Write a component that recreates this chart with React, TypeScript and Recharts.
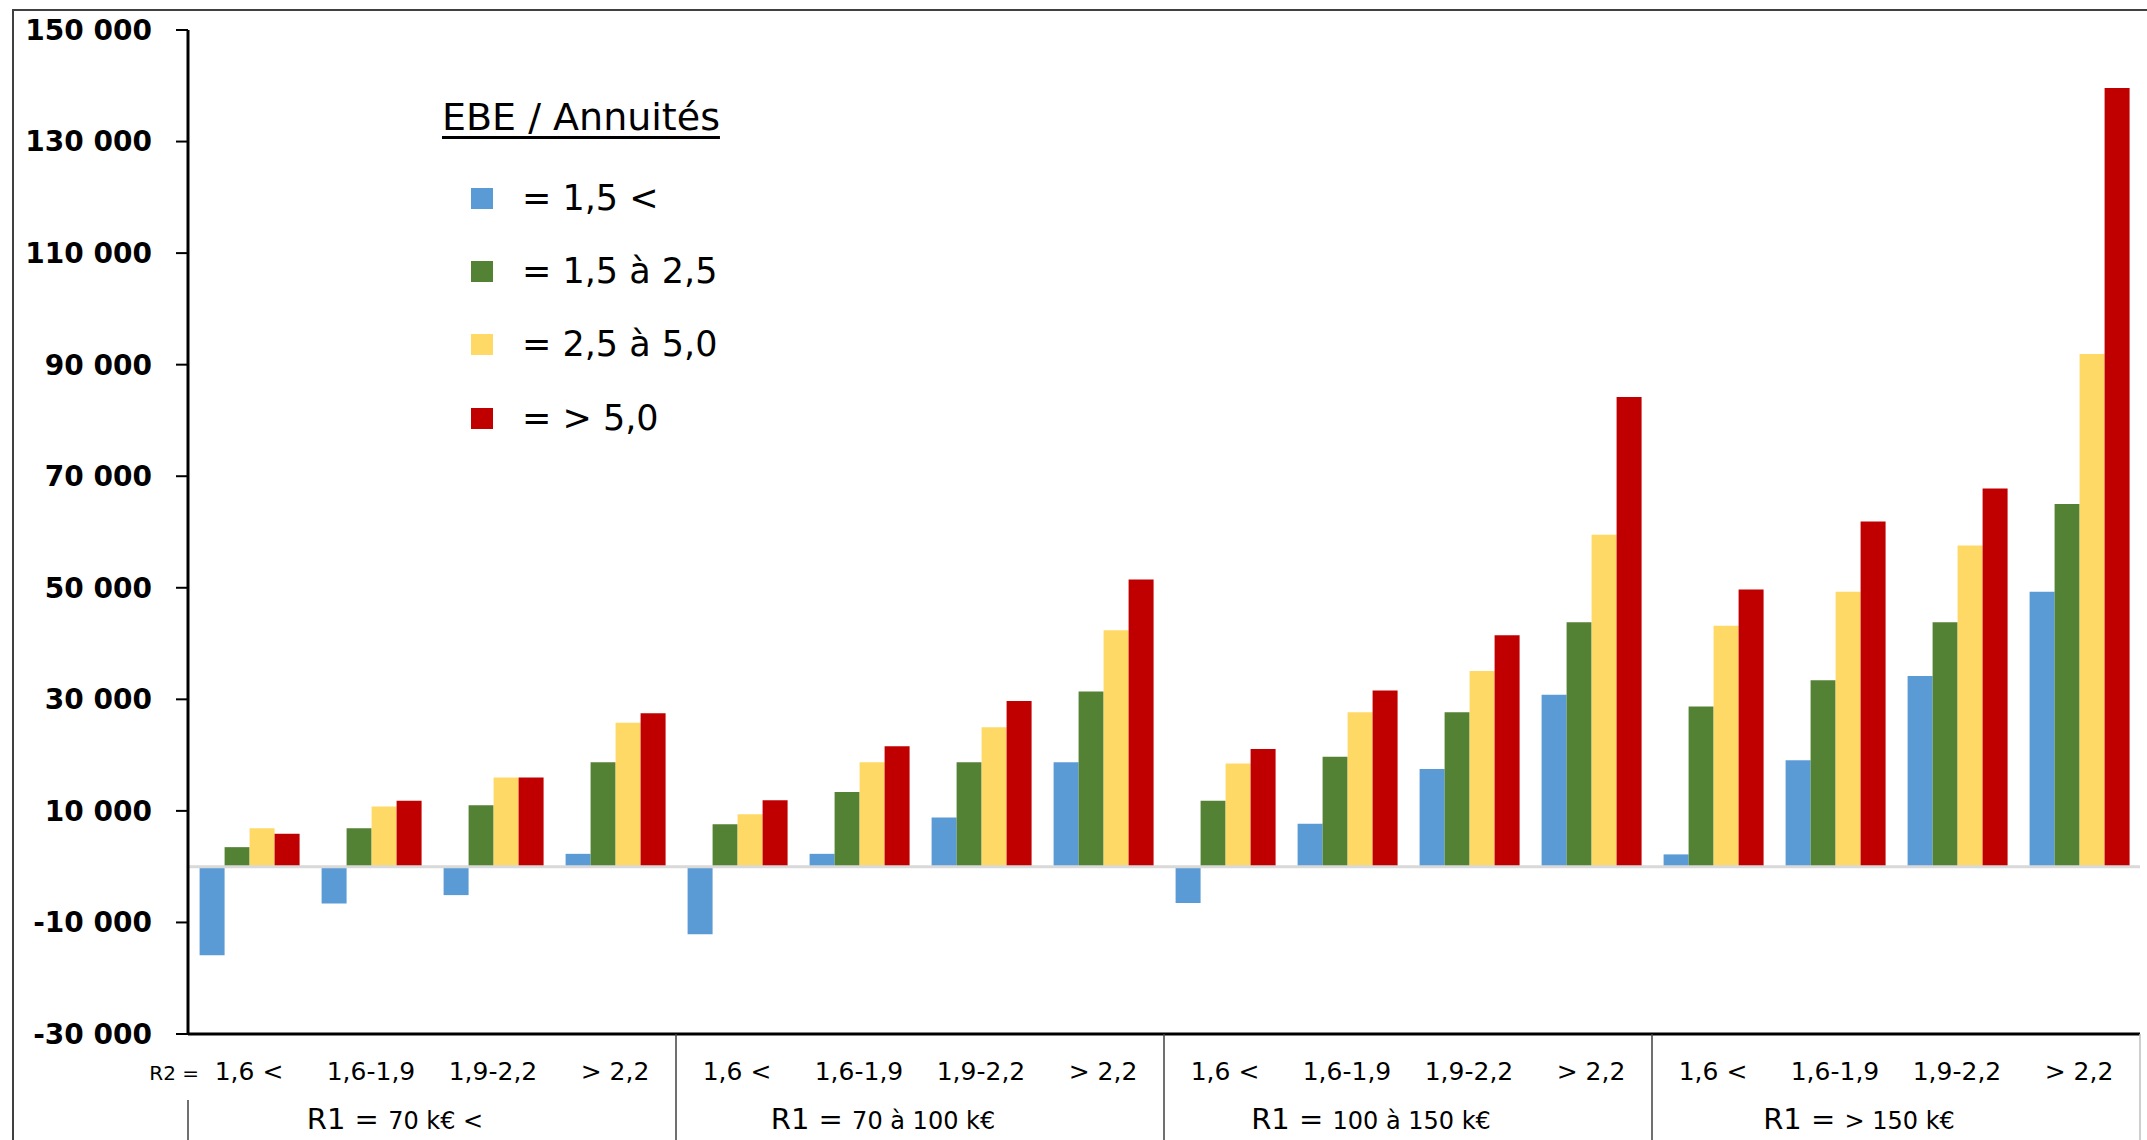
import React from 'react';
import { BarChart, Bar, XAxis, YAxis, ReferenceLine, Legend } from 'recharts';

// ---- data ----
const r2Labels = ['1,6 <', '1,6-1,9', '1,9-2,2', '> 2,2'];
const r1Groups = ['70 k€ <', '70 à 100 k€', '100  à 150 k€', '> 150 k€'];
const yTicks = [-30000, -10000, 10000, 30000, 50000, 70000, 90000, 110000, 130000, 150000];
const seriesNames = ['= 1,5 <', '= 1,5 à 2,5', '= 2,5 à 5,0', '= > 5,0'];
const seriesColors = ['#5B9BD5', '#548235', '#FFD966', '#C00000'];
const legendTitle = 'EBE / Annuités';

const ratioLow = [-15900, -6600, -5100, 2300, -12100, 2300, 8800, 18700, -6500, 7700, 17500, 30800, 2200, 19100, 34200, 49300];
const ratioMid = [3500, 6900, 11000, 18700, 7600, 13400, 18700, 31400, 11800, 19700, 27700, 43800, 28700, 33400, 43800, 65000];
const ratioHigh = [6900, 10800, 16000, 25800, 9400, 18700, 25000, 42400, 18500, 27700, 35100, 59500, 43200, 49300, 57600, 91900];
const ratioTop = [5900, 11800, 16000, 27500, 11900, 21600, 29700, 51500, 21100, 31600, 41500, 84200, 49700, 61900, 67800, 139600];

const seriesValues = [ratioLow, ratioMid, ratioHigh, ratioTop];
const seriesKeys = ['s1', 's2', 's3', 's4'];

const data = r1Groups.flatMap((g, gi) =>
  r2Labels.map((r, ri) => {
    const i = gi * 4 + ri;
    const row: any = { r2: r, r1: g };
    seriesKeys.forEach((k, si) => (row[k] = seriesValues[si][i]));
    return row;
  })
);

// ---- layout ----
const FONT = '"DejaVu Sans", sans-serif';
const W = 2139;
const H = 1132;
const M = { top: 22, right: 7, left: 0, bottom: 0 };
const YW = 180;
const XH = 106;
const PLOT_W = W - M.left - M.right - YW;
const BAND = PLOT_W / data.length;

const fmt = (v: number) => {
  const s = Math.abs(v)
    .toString()
    .replace(/\B(?=(\d{3})+(?!\d))/g, ' ');
  return (v < 0 ? '-' : '') + s;
};

function XTick(props: any) {
  const { x, y, payload, index } = props;
  const half = BAND / 2;
  const els: any[] = [];
  els.push(
    <text key="t" x={x} y={y + 46} textAnchor="middle" fontSize={25} fill="#000" fontFamily={FONT}>
      {payload.value}
    </text>
  );
  if (index === 0) {
    els.push(
      <text key="r2" x={x - 50} y={y + 46} textAnchor="end" fontSize={20} fill="#000" fontFamily={FONT}>
        R2 =
      </text>
    );
  }
  if (index % 4 === 0) {
    const gi = Math.floor(index / 4);
    els.push(
      <line key="sep" x1={x - half} x2={x - half} y1={index === 0 ? y + 66 : y} y2={y + 112} stroke="#404040" strokeWidth={1.5} />
    );
    els.push(
      <text key="g" x={x - half + 2 * BAND - 37} y={y + 95} textAnchor="middle" fill="#000" fontFamily={FONT}>
        <tspan fontSize={29}>R1 = </tspan>
        <tspan fontSize={24}>{r1Groups[gi]}</tspan>
      </text>
    );
  }
  if (index === data.length - 1) {
    els.push(
      <line key="sepR" x1={x + half} x2={x + half} y1={y} y2={y + 112} stroke="#bfbfbf" strokeWidth={1.5} />
    );
  }
  return <g>{els}</g>;
}

function LegendContent(props: any) {
  const payload = props.payload || [];
  const rowCenters = [110, 183, 256, 330];
  return (
    <div style={{ position: 'relative', width: 420, height: 360, fontFamily: FONT, color: '#000' }}>
      <div
        style={{
          position: 'absolute',
          left: 1,
          top: 10,
          fontSize: 38,
          lineHeight: '38px',
          textDecoration: 'underline',
          textUnderlineOffset: 6,
          whiteSpace: 'nowrap',
        }}
      >
        {legendTitle}
      </div>
      {payload.map((p: any, i: number) => (
        <div
          key={i}
          style={{
            position: 'absolute',
            left: 30,
            top: rowCenters[i] - 18,
            height: 36,
            display: 'flex',
            alignItems: 'center',
            whiteSpace: 'nowrap',
          }}
        >
          <div style={{ width: 22, height: 21, background: p.color }} />
          <div style={{ marginLeft: 29, fontSize: 35, lineHeight: '36px' }}>{p.value}</div>
        </div>
      ))}
    </div>
  );
}

export default function App() {
  return (
    <div
      style={{
        position: 'absolute',
        left: 8,
        top: 8,
        width: W,
        height: H,
        overflow: 'hidden',
        background: '#fff',
        fontFamily: FONT,
      }}
    >
      <div
        style={{
          position: 'absolute',
          left: 4,
          top: 1,
          width: W + 20,
          height: H + 20,
          border: '2px solid #404040',
          boxSizing: 'border-box',
          pointerEvents: 'none',
        }}
      />
      <BarChart width={W} height={H} data={data} margin={M} barCategoryGap="9.5%" barGap={0}>
        <XAxis
          dataKey="r2"
          height={XH}
          interval={0}
          tickSize={0}
          tickMargin={0}
          tickLine={false}
          axisLine={{ stroke: '#000', strokeWidth: 3 }}
          tick={<XTick />}
        />
        <XAxis
          xAxisId="top"
          dataKey="r2"
          orientation="top"
          height={0}
          tick={false}
          tickLine={false}
          axisLine={{ stroke: '#000', strokeWidth: 3 }}
        />
        <YAxis
          width={YW}
          domain={[-30000, 150000]}
          ticks={yTicks}
          interval={0}
          allowDataOverflow
          tickFormatter={fmt}
          tickSize={12}
          tickMargin={24}
          tickLine={{ stroke: '#000', strokeWidth: 2 }}
          axisLine={{ stroke: '#000', strokeWidth: 3 }}
          tick={{ fontSize: 28, fontWeight: 'bold', fill: '#000', fontFamily: FONT }}
        />
        <YAxis
          yAxisId="right"
          orientation="right"
          width={0}
          domain={[-30000, 150000]}
          tick={false}
          tickLine={false}
          axisLine={{ stroke: '#000', strokeWidth: 3 }}
        />
        <Legend
          layout="horizontal"
          verticalAlign="middle"
          align="center"
          wrapperStyle={{ left: 433, top: 80, width: 420, height: 360 }}
          content={<LegendContent />}
        />
        {seriesKeys.map((k, i) => (
          <Bar key={k} dataKey={k} name={seriesNames[i]} fill={seriesColors[i]} isAnimationActive={false} />
        ))}
        <ReferenceLine y={0} stroke="#d9d9d9" strokeWidth={3} />
      </BarChart>
    </div>
  );
}
